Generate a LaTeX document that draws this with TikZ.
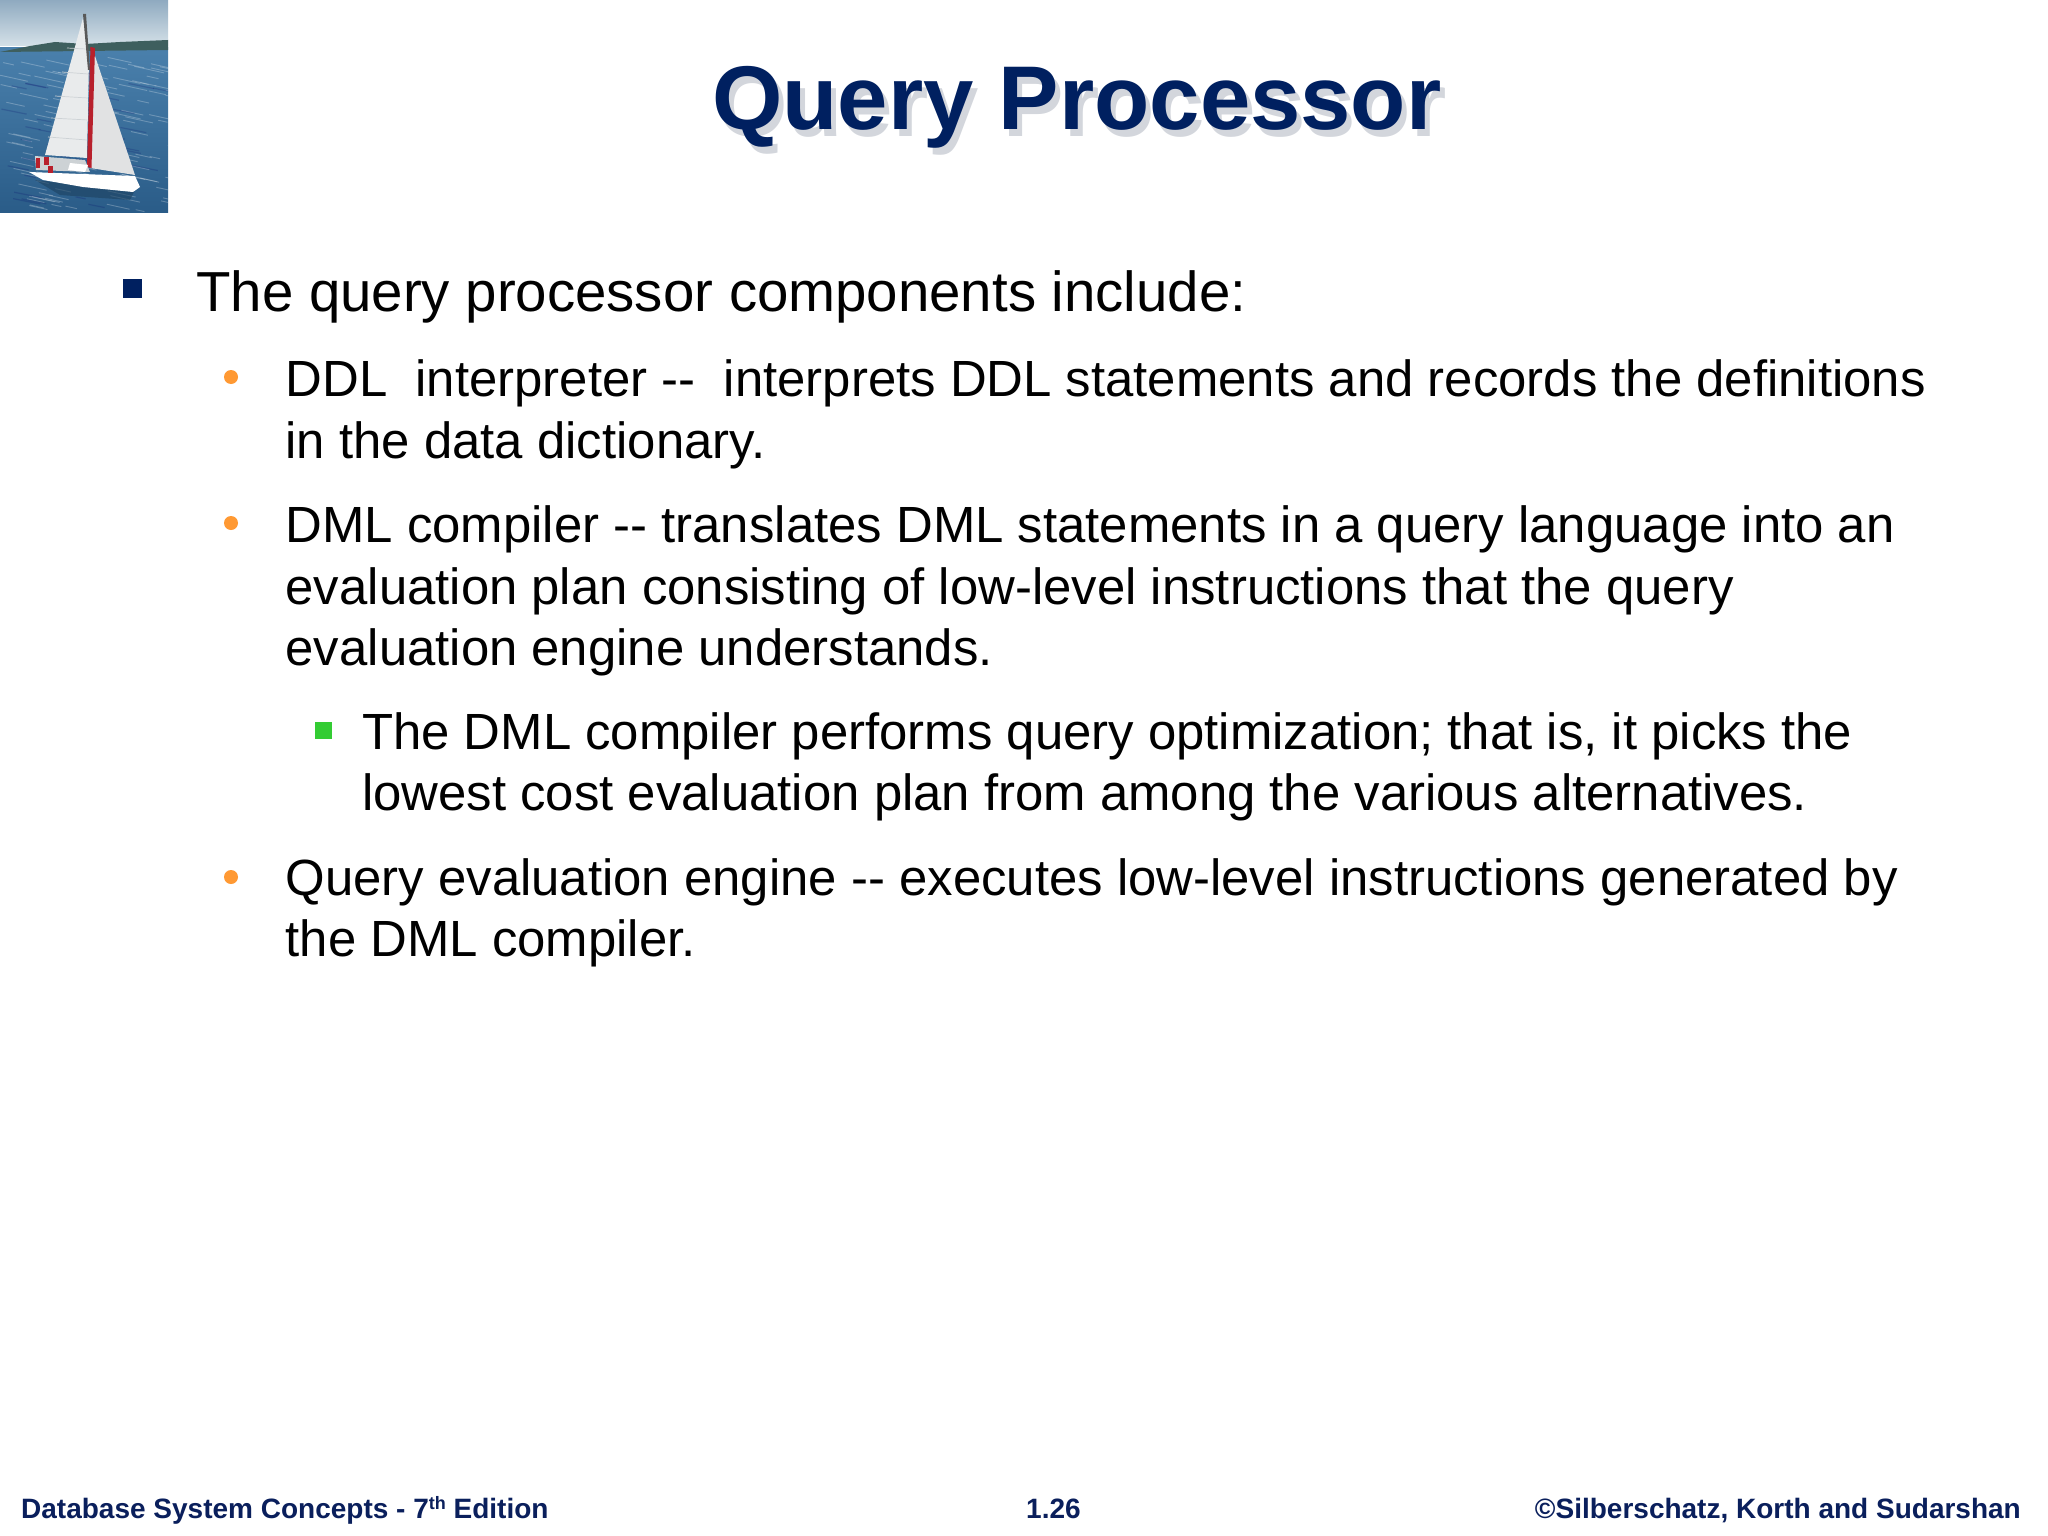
\documentclass[tikz,border=0pt]{standalone}
\usepackage{fontspec}
\setmainfont{Liberation Sans}
\definecolor{navy}{HTML}{002060}
\definecolor{footnavy}{HTML}{0A1F5C}
\definecolor{orangeb}{HTML}{FF9933}
\definecolor{greenb}{HTML}{33CC33}
\definecolor{seatop}{HTML}{4A80AC}
\definecolor{seabot}{HTML}{2A5C88}
\definecolor{skytop}{HTML}{8FAAC0}
\definecolor{skybot}{HTML}{D5E1E8}
\definecolor{hill}{HTML}{3E5F5E}
\definecolor{sail}{HTML}{E9EBEC}
\definecolor{sailshade}{HTML}{CDD2D5}
\definecolor{redmast}{HTML}{B8202C}
\definecolor{shadowc}{HTML}{D3D6DC}
\tikzset{
  x=1pt,y=-1pt,
  lev1/.style={anchor=base west,inner sep=0pt,align=left,text=black,font=\fontsize{56.4}{62}\selectfont},
  lev2/.style={anchor=base west,inner sep=0pt,align=left,text=black,font=\fontsize{50.88}{61.5}\selectfont},
  foot/.style={anchor=base west,inner sep=0pt,text=footnavy,font=\fontsize{28}{32}\selectfont\bfseries},
  titletext/.style={anchor=base west,inner sep=0pt,font=\fontsize{90.5}{100}\selectfont\bfseries},
  squareb/.style={fill=navy},
  dotb/.style={fill=orangeb},
}
\begin{document}
\begin{tikzpicture}
\useasboundingbox (0,0) rectangle (2048,1536);
\fill[white] (0,0) rectangle (2048,1536);
% photo
\begin{scope}
\clip (0,0) rectangle (168,212);
\shade[top color=skytop,bottom color=skybot] (0,0) rectangle (168,46);
\shade[top color=seatop,bottom color=seabot] (0,48) rectangle (168,212);
\fill[hill] (0,52) -- (30,46) -- (55,42) -- (85,44) -- (120,42) -- (168,40) -- (168,50) -- (0,52) -- cycle;
\pgfmathsetseed{7}
\foreach \i in {1,...,110}{
  \pgfmathsetmacro{\xa}{rnd*168}
  \pgfmathsetmacro{\ya}{55+rnd*155}
  \pgfmathsetmacro{\len}{8+rnd*24}
  \draw[white,opacity=.25,line width=.9pt] (\xa,\ya) -- (\xa+\len,\ya+\len*.22);
}
\foreach \i in {1,...,40}{
  \pgfmathsetmacro{\xa}{rnd*168}
  \pgfmathsetmacro{\ya}{70+rnd*140}
  \pgfmathsetmacro{\len}{8+rnd*20}
  \draw[black!60!blue,opacity=.18,line width=1.2pt] (\xa,\ya) -- (\xa+\len,\ya+\len*.2);
}
% boat
\fill[seabot!70!black,opacity=.6] (35,180) -- (135,190) -- (130,200) -- (60,195) -- cycle;
\fill[sail] (83,18) -- (45,155) -- (87,158) -- (89,60) -- cycle;
\draw[sailshade,line width=.7pt] (67,48) -- (86,49) (62,72) -- (88,74) (55,96) -- (88,98) (51,118) -- (88,120) (48,137) -- (87,140);
\fill[sail!92!gray] (93,50) -- (135,175) -- (90,168) -- cycle;
\fill[black!65] (83,14) -- (86,14) -- (90,70) -- (88,70) -- cycle;
\fill[redmast] (90.5,47) -- (95,48) -- (91.5,168) -- (87,167) -- cycle;
\fill[white] (29,172) -- (135,176) -- (140,187) -- (133,192) -- (83,187) -- (43,180) -- cycle;
\fill[sailshade] (35,156) -- (85,160) -- (90,172) -- (36,170) -- cycle;
\fill[white] (70,163) -- (88,165) -- (85,172) -- (68,170) -- cycle;
\fill[redmast] (36,158) rectangle (40,168);
\fill[redmast] (44,157) rectangle (49,165);
\fill[redmast] (48,166) rectangle (53,173);
\end{scope}
% title
\node[titletext,text=shadowc] (titleshadow) at (717,136) {Query Processor};
\node[titletext,text=navy] (title) at (712,130) {Query Processor};
% level 1
\fill[squareb] (123,279) rectangle (142,298);
\node[lev1] (l1) at (196,311) {The query processor components include:};
% level 2
\fill[dotb] (231,377) circle (7);
\node[lev2] (a1) at (285.5,396) {DDL\ \ interpreter -{}-\ \ interprets DDL statements and records the definitions};
\node[lev2] (a2) at (285.5,458) {in the data dictionary.};
\fill[dotb] (231,523) circle (7);
\node[lev2] (b1) at (285.5,542) {DML compiler -{}- translates DML statements in a query language into an};
\node[lev2] (b2) at (285.5,604) {evaluation plan consisting of low-level instructions that the query};
\node[lev2] (b3) at (285.5,665) {evaluation engine understands.};
\fill[greenb] (315,722) rectangle (332,739);
\node[lev2] (c1) at (362,749) {The DML compiler performs query optimization; that is, it picks the};
\node[lev2] (c2) at (362,810) {lowest cost evaluation plan from among the various alternatives.};
\fill[dotb] (231,877) circle (7);
\node[lev2] (d1) at (285.5,895) {Query evaluation engine -{}- executes low-level instructions generated by};
\node[lev2] (d2) at (285.5,956) {the DML compiler.};
% footer
\node[foot] (f1) at (21,1518) {Database System Concepts - 7\raisebox{.3em}{\fontsize{18}{20}\selectfont th} Edition};
\node[foot] (f2) at (1026,1518) {1.26};
\node[foot,anchor=base east] (f3) at (2021,1518) {©Silberschatz, Korth and Sudarshan};
\end{tikzpicture}
\end{document}
